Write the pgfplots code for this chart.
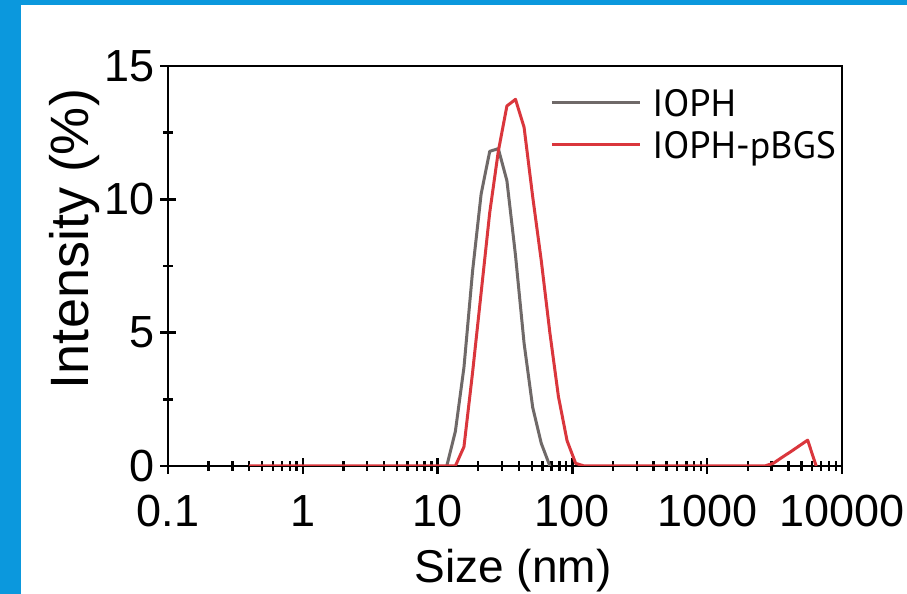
\documentclass[border=0pt]{standalone}
\usepackage{fontspec}
\setmainfont{Liberation Sans}
\newfontfamily\ptsans{PT Sans}
\usepackage{pgfplots}
\pgfplotsset{compat=1.18}
\definecolor{frameblue}{HTML}{0B98DD}
\definecolor{ophgray}{HTML}{6F6968}
\definecolor{ophred}{HTML}{DA363C}
\begin{document}
\begin{tikzpicture}
\useasboundingbox (0,0) rectangle (453.5pt,297pt);
\fill[frameblue] (0,0) rectangle (453.5pt,297pt);
\fill[white] (10.5pt,0) rectangle (453.5pt,294.5pt);
\begin{axis}[
    at={(84pt,64pt)}, anchor=south west,
    width=337pt, height=200pt, scale only axis,
    xmode=log, xmin=0.1, xmax=10000,
    ymin=0, ymax=15,
    axis line style={line width=1.4pt},
    tick pos=left, tick align=center,
    major tick length=8pt, minor tick length=5pt,
    major tick style={black, line width=1.2pt},
    minor tick style={black, line width=1.2pt},
    xtick={0.1,1,10,100,1000,10000},
    xticklabels={0.1,1,10,100,1000,10000},
    minor xtick={0.2,0.3,0.4,0.5,0.6,0.7,0.8,0.9,2,3,4,5,6,7,8,9,20,30,40,50,60,70,80,90,200,300,400,500,600,700,800,900,2000,3000,4000,5000,6000,7000,8000,9000},
    ytick={0,5,10,15},
    yticklabels={0,5,10,15},
    minor ytick={2.5,7.5,12.5},
    ticklabel style={font=\fontsize{22.5}{26}\selectfont},
    xticklabel style={yshift=-7pt},
    yticklabel style={xshift=1pt},
    xlabel={Size (nm)},
    ylabel={Intensity (\%)},
    xlabel style={font=\fontsize{23}{27}\selectfont, at={(axis description cs:0.512,-0.2925)}, anchor=base},
    ylabel style={font=\fontsize{27}{30}\selectfont, at={(axis description cs:-0.138,0.5675)}, anchor=center},
  ]
  \addplot[ophgray, line width=1.5pt, line join=round] coordinates {
    (11.70,0) (13.55,1.3) (15.69,3.7) (18.17,7.3) (21.04,10.2) (24.36,11.8)
    (28.21,11.9) (32.67,10.7) (37.84,7.9) (43.82,4.6) (50.75,2.2) (58.77,0.85) (68.06,0)
  };
  \addplot[ophred, line width=1.5pt, line join=round] coordinates {
    (0.4,0) (13.55,0) (15.69,0.72) (18.17,3.5) (21.04,6.5) (24.36,9.5) (28.21,11.8)
    (32.67,13.5) (37.84,13.75) (43.82,12.7) (50.75,10.1) (58.77,7.7) (68.06,5.0)
    (78.82,2.6) (91.28,0.95) (105.7,0.1) (122.4,0) (2670,0) (3092,0.1) (3581,0.32)
    (4147,0.53) (4802,0.75) (5561,0.97) (6440,0)
  };
  % legend
  \draw[ophgray, line width=1.5pt] (axis description cs:0.5697,0.9075) -- (axis description cs:0.7003,0.9075);
  \draw[ophred, line width=1.5pt] (axis description cs:0.5697,0.8025) -- (axis description cs:0.7003,0.8025);
  \node[anchor=west, inner sep=0pt, text height=13.3pt, text depth=0pt, font=\ptsans\fontsize{19}{22}\selectfont]
    at (axis description cs:0.7181,0.9075) {IOPH};
  \node[anchor=west, inner sep=0pt, text height=13.3pt, text depth=0pt, font=\ptsans\fontsize{19}{22}\selectfont]
    at (axis description cs:0.7181,0.8025) {IOPH-pBGS};
\end{axis}
\end{tikzpicture}
\end{document}
